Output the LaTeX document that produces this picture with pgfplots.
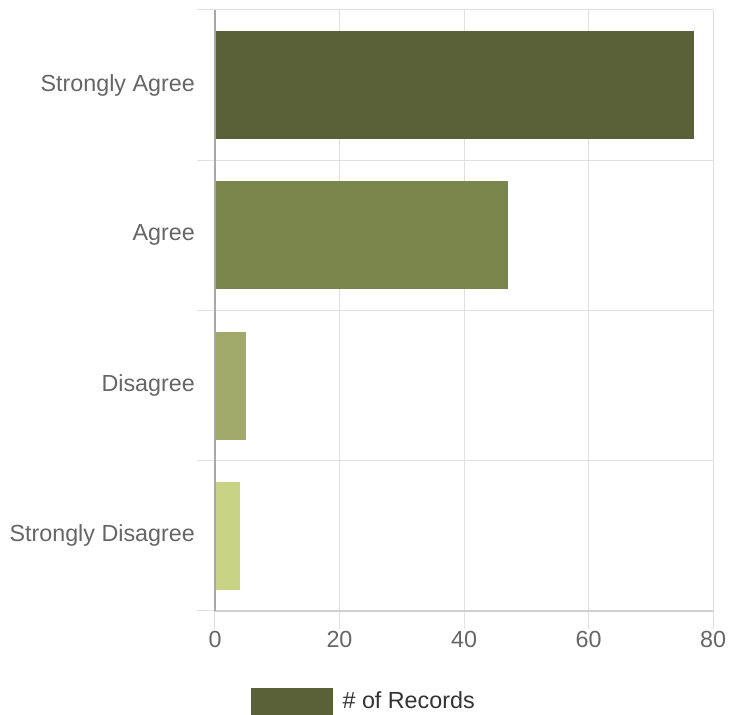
\documentclass[border=0pt]{standalone}
\usepackage{fontspec}
\setmainfont{Liberation Sans}
\usepackage{pgfplots}
\pgfplotsset{compat=1.18}
\definecolor{cA}{HTML}{5A6139}
\definecolor{cB}{HTML}{7A854B}
\definecolor{cC}{HTML}{A0A96A}
\definecolor{cD}{HTML}{C8D484}
\definecolor{gridgray}{HTML}{E0E0E0}
\definecolor{axisgray}{HTML}{A8A8A8}
\definecolor{botgray}{HTML}{CFCFCF}
\definecolor{labelgray}{HTML}{666666}
\definecolor{legendgray}{HTML}{333333}
\begin{document}
\fontsize{23.3}{28}\selectfont
\begin{tikzpicture}
\begin{axis}[
  scale only axis, width=498pt, height=601pt,
  xmin=0, xmax=80, ymin=-0.5, ymax=3.5,
  axis x line=bottom, axis y line=left,
  x axis line style={-, color=botgray, line width=1.5pt},
  y axis line style={-, color=axisgray, line width=1.5pt},
  xtick={0,20,40,60,80},
  ytick={-0.5,0.5,1.5,2.5,3.5}, yticklabels={},
  extra y ticks={0,1,2,3},
  extra y tick labels={Strongly Disagree,Disagree,Agree,Strongly Agree},
  extra y tick style={grid=none, tick style={draw=none}},
  xmajorgrids, ymajorgrids,
  grid style={color=gridgray, line width=1pt},
  tick align=outside, major tick length=18pt,
  tick style={color=gridgray, line width=1pt},
  /pgf/number format/assume math mode=true,
  ticklabel style={font=\fontsize{23.3}{28}\selectfont, text=labelgray, inner sep=2pt},
  clip=false,
  legend style={at={(rel axis cs:0,0)}, anchor=north west, xshift=36pt, yshift=-77pt,
    draw=none, inner sep=0pt, font=\fontsize{23.3}{28}\selectfont, text=legendgray,
    /tikz/every odd column/.append style={column sep=8pt}},
  legend cell align=left,
]
\addplot[xbar, bar width=108pt, bar shift=0pt, fill=cA, draw=none, forget plot] coordinates {(77,3)};
\addplot[xbar, bar width=108pt, bar shift=0pt, fill=cB, draw=none, forget plot] coordinates {(47,2)};
\addplot[xbar, bar width=108pt, bar shift=0pt, fill=cC, draw=none, forget plot] coordinates {(5,1)};
\addplot[xbar, bar width=108pt, bar shift=0pt, fill=cD, draw=none, forget plot] coordinates {(4,0)};
\addlegendimage{legend image code/.code={\fill[cA] (0pt,-13pt) rectangle (81pt,13pt);}}
\addlegendentry{\# of Records}
\draw[axisgray, line width=1.5pt] (axis cs:0,3.5) -- (axis cs:0,-0.5) -- ++(0,-18pt);
\end{axis}
\path (current axis.south west) ++(-215pt,-104pt) coordinate (bl);
\path (current axis.north east) ++(16pt,10pt) coordinate (tr);
\path (bl) rectangle (tr);
\end{tikzpicture}
\end{document}
